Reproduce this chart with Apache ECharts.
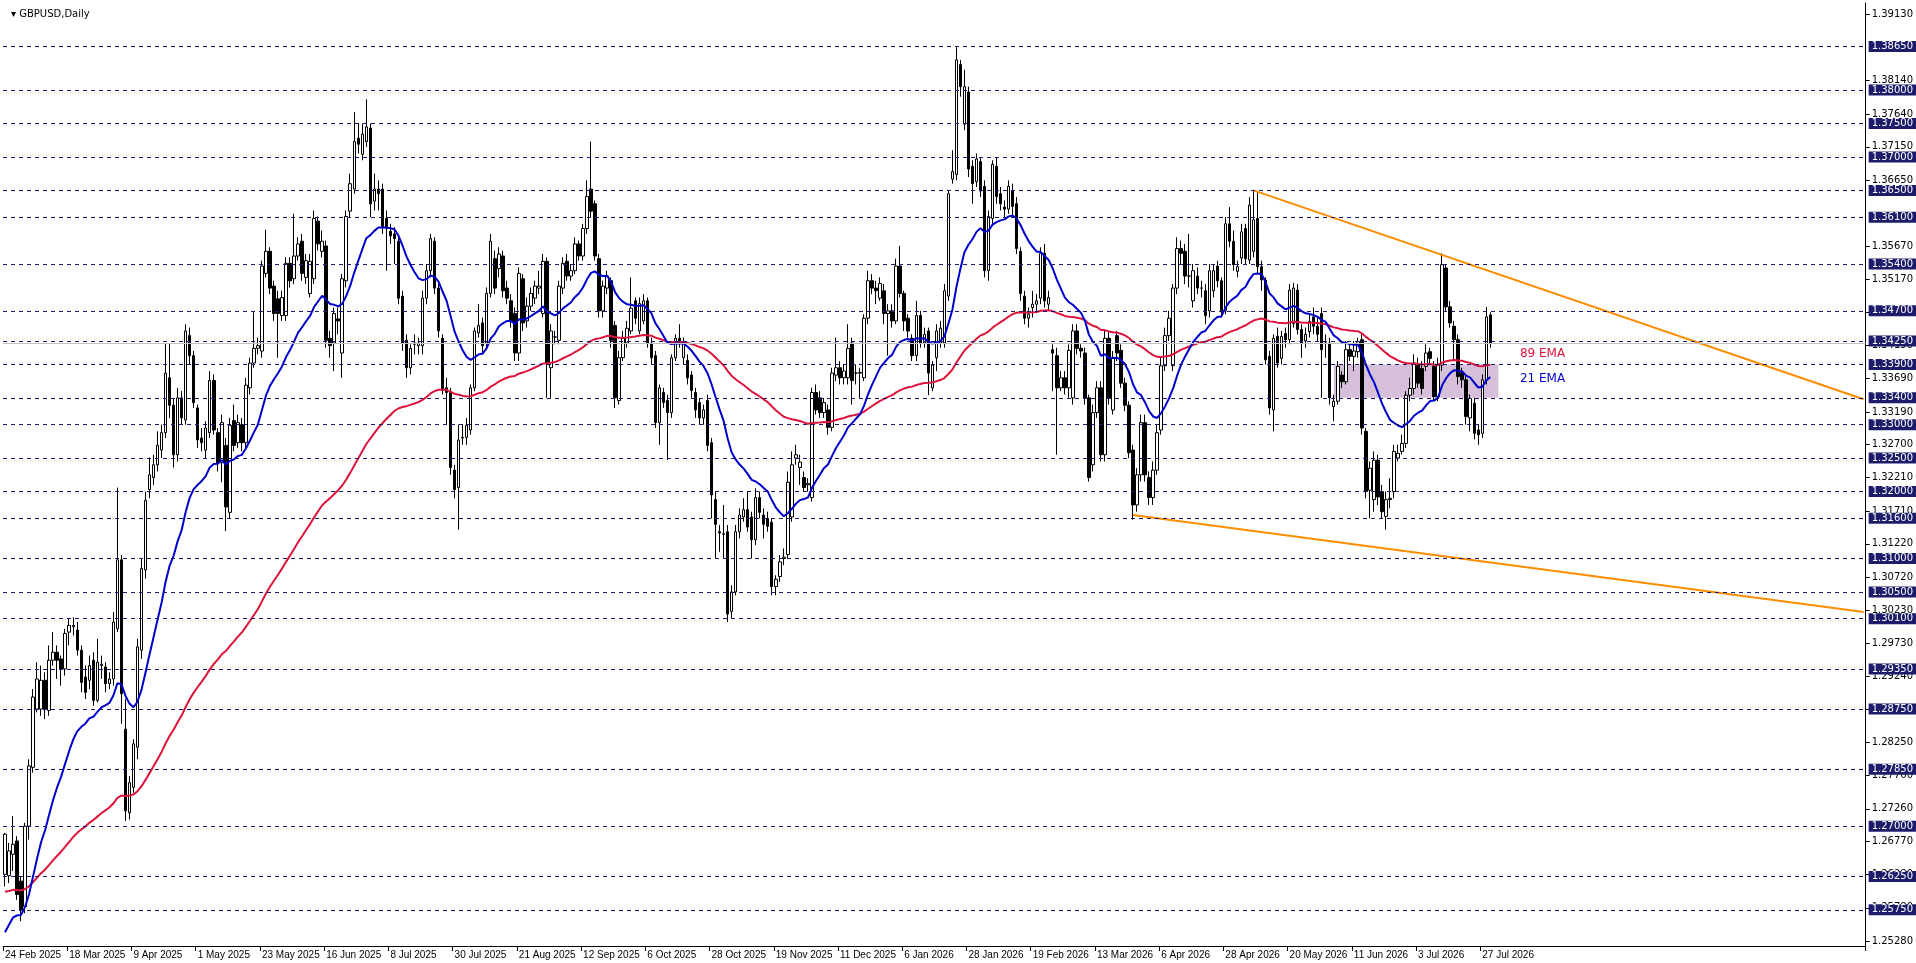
<!DOCTYPE html>
<html>
<head>
<meta charset="utf-8">
<script src="https://cdn.jsdelivr.net/npm/echarts@6/dist/echarts.min.js"></script>
<style>
  html, body { margin: 0; padding: 0; background: #fff; }
  #chart { width: 1916px; height: 963px; }
</style>
</head>
<body>
<div id="chart"></div>
<script>
// prices are written in pips above 1.2500 (e.g. 840 -> 1.3340)
var BASE = 1.25;
var opens = [128,126,158,178,118,80,200,288,375,375,418,373,448,460,450,435,490,498,493,463,423,418,448,388,440,438,413,420,495,598,
345,220,258,318,463,583,703,721,740,762,788,870,829,755,840,807,933,903,825,780,762,788,866,788,743,769,669,806,773,800,
773,855,892,914,910,1026,1059,1007,988,963,963,1041,1018,1052,1074,1020,996,1018,1104,1059,1067,929,922,958,907,1015,1119,1152,1228,1204,
1223,1243,1134,1152,1152,1108,1089,1085,1074,992,926,885,920,918,918,989,1030,1074,1004,929,855,848,732,706,780,781,792,855,937,952,
922,996,1048,1033,1052,1004,985,966,907,1018,955,977,989,1004,966,1044,885,931,926,1004,1044,1022,1030,1070,1052,1093,1152,1130,1048,970,
1004,1015,948,836,900,922,940,985,940,955,985,922,903,803,848,836,818,900,929,900,896,874,848,833,810,836,773,688,640,636,
640,521,550,640,662,673,662,628,691,665,660,654,558,573,600,606,662,750,736,721,710,691,848,840,818,822,796,874,885,870,
870,922,877,877,870,959,1015,1004,989,1000,966,970,955,1037,996,959,929,903,963,922,940,855,900,922,922,992,1167,1174,1338,1249,
1297,1186,1163,1193,1156,1030,1108,1186,1145,1125,1122,1149,1130,1059,992,959,975,980,989,1056,980,912,903,855,870,855,840,940,914,907,
840,740,818,855,755,929,822,933,911,862,829,762,680,725,803,721,691,732,792,888,933,888,1004,1063,1059,1022,985,1022,1004,1000,
970,1000,1037,1015,970,1100,1074,1029,1049,1093,1046,1059,1108,1036,1016,902,822,932,899,936,927,951,1001,942,925,939,961,947,966,922,
922,827,835,874,864,912,902,909,927,790,702,688,747,700,663,688,700,750,760,772,844,854,889,884,887,909,887,842,889,1034,
976,947,927,877,867,810,832,792,787,867,964];
var closes = [188,163,173,98,75,200,290,393,420,418,375,448,460,448,435,488,500,500,463,415,400,440,388,445,442,413,420,505,598,398,
223,265,323,468,585,687,725,740,769,788,877,829,755,840,810,940,903,833,777,773,795,866,792,743,803,677,799,769,803,773,
859,892,914,918,1037,1059,1004,966,966,990,1041,1015,1052,1070,1026,1045,1044,1108,1070,1074,926,918,966,955,1018,1111,1160,1223,1219,1234,
1245,1130,1152,1145,1096,1093,1082,1078,989,922,885,914,922,922,989,1030,1078,1004,940,851,848,736,703,777,781,799,855,940,948,918,
996,1074,1004,1055,1000,989,955,907,1026,952,977,996,1007,1007,1044,892,940,931,1007,1041,1022,1030,1070,1052,1093,1141,1119,1052,970,1007,
1022,926,840,900,929,944,974,959,981,985,922,900,803,855,833,818,900,929,922,922,870,851,822,810,822,769,695,651,638,637,
517,550,640,665,673,647,628,691,669,651,648,558,569,595,602,714,740,755,744,706,712,848,822,818,833,796,877,885,870,880,
914,866,877,878,959,1015,1004,1000,1011,966,970,955,1037,996,955,940,903,963,922,935,877,889,940,944,1000,1145,1178,1345,1305,1305,
1182,1160,1197,1149,1030,1111,1189,1141,1130,1122,1156,1126,1063,996,959,965,980,985,1056,985,990,907,855,870,855,911,940,914,910,840,
721,818,855,755,929,840,900,907,862,829,758,680,725,803,725,691,732,788,888,933,959,1004,1063,1056,1022,1022,1030,1004,1004,963,
1030,1030,1015,970,1100,1074,1039,1036,1088,1048,1128,1106,1036,1016,897,825,929,892,932,927,1001,1004,942,922,935,954,947,935,912,922,
840,835,887,864,912,902,910,924,795,700,735,747,692,670,688,690,760,757,772,844,854,892,862,854,907,899,842,889,1039,976,
952,927,872,867,812,839,787,785,867,961,922];
var lows = [110,115,133,90,58,70,180,280,370,365,360,365,440,420,410,425,470,485,455,400,390,405,380,385,420,400,405,410,490,353,
208,210,250,300,450,570,690,710,730,750,780,810,736,745,800,800,890,825,765,760,750,780,785,730,714,641,660,760,765,760,
765,845,885,905,900,1020,995,955,900,955,955,1005,1010,1045,1015,1010,990,1010,1060,1050,915,900,880,935,870,1005,1110,1145,1205,1195,
1215,1110,1120,1120,1085,1030,1070,1040,980,910,870,875,905,905,905,980,1020,995,930,845,800,725,690,643,770,770,785,850,930,905,
915,990,995,1020,990,980,945,895,895,940,945,970,980,995,960,840,840,920,920,995,1015,1015,1025,1045,1045,1085,1110,1045,960,960,
995,915,825,830,895,915,935,950,935,950,915,890,795,770,825,747,810,895,915,890,860,840,810,800,800,760,660,600,610,600,
505,510,545,630,655,640,600,620,660,630,640,545,545,565,590,600,655,740,710,700,700,685,815,810,810,785,790,865,860,860,
860,830,860,840,865,950,995,980,985,950,903,945,950,990,940,930,895,895,915,915,844,850,880,915,915,985,1160,1165,1290,1240,
1170,1130,1155,1140,1020,1015,1100,1130,1120,1110,1115,1110,1055,985,950,945,960,970,980,975,970,850,755,850,845,840,830,905,900,830,
715,730,810,745,745,830,815,895,855,820,750,658,670,715,715,680,680,725,785,880,925,880,995,1040,1010,1005,975,995,990,950,
960,990,1005,960,965,1065,1030,1020,1040,1040,1040,1050,1025,1000,890,815,790,885,890,915,920,945,935,900,915,930,935,925,840,900,
830,805,830,855,860,895,880,900,785,690,660,670,680,660,643,675,690,745,755,765,835,845,855,845,880,890,835,835,880,970,
945,895,860,855,800,790,778,770,780,860,915];
var highs = [190,175,215,185,125,205,300,405,445,440,430,470,490,470,455,495,510,512,505,470,440,455,460,480,455,445,430,520,706,605,
390,275,330,480,600,700,751,755,790,800,922,922,840,855,850,950,945,910,830,795,805,880,875,795,815,780,810,830,815,810,
870,900,968,930,1045,1091,1065,1015,1000,1000,1050,1050,1115,1080,1085,1055,1055,1120,1111,1090,1075,940,975,975,1025,1120,1175,1267,1250,1250,
1286,1250,1175,1165,1160,1120,1100,1095,1080,1000,935,920,935,930,1000,1040,1085,1080,1010,935,870,855,740,800,800,810,860,945,980,960,
1005,1085,1060,1065,1060,1015,995,975,1035,1025,990,1005,1015,1030,1055,1050,950,940,1015,1050,1055,1040,1080,1075,1100,1165,1223,1135,1055,1015,
1030,1020,955,910,940,955,1020,990,990,995,990,930,910,860,855,845,905,935,950,930,905,880,855,840,830,845,780,700,650,680,
650,560,650,675,690,700,670,705,700,675,670,660,575,605,615,730,760,770,755,730,720,855,860,850,840,830,885,930,895,890,
950,930,890,885,965,1030,1025,1015,1020,1010,980,980,1048,1067,1000,965,935,985,970,945,945,895,950,955,1010,1150,1210,1364,1345,1330,
1305,1195,1205,1200,1165,1120,1195,1200,1155,1135,1165,1160,1140,1065,1000,975,1000,995,1065,1070,1000,920,915,880,880,920,950,950,920,915,
845,830,865,865,940,940,910,940,920,870,835,770,735,815,815,730,745,800,900,945,970,1010,1080,1075,1070,1085,1040,1035,1015,1010,
1040,1040,1045,1020,1110,1125,1090,1045,1100,1100,1140,1150,1148,1045,1020,910,935,945,940,945,1010,1012,1010,950,945,965,975,960,975,935,
930,845,895,880,925,920,925,930,935,795,745,760,755,710,700,720,770,770,785,850,870,905,900,895,920,915,895,900,1056,1040,
985,955,935,885,875,845,840,800,875,976,968];

// 21 / 89 EMA starting values (carried over from history left of the chart)
var ema21Seed = 27, ema89Seed = 100;
// key levels drawn as dashed lines
var levels = [1.3865,1.3800,1.3750,1.3700,1.3650,1.3610,1.3540,1.3470,1.3425,1.3390,1.3340,1.3300,1.3250,1.3200,1.3160,
  1.3100,1.3050,1.3010,1.2935,1.2875,1.2785,1.2700,1.2625,1.2575];
// plain axis ticks
var ticks = [1.3913,1.3814,1.3764,1.3715,1.3665,1.3567,1.3517,1.3468,1.3419,1.3369,1.3319,1.3270,1.3221,1.3171,1.3122,
  1.3072,1.3023,1.2973,1.2924,1.2874,1.2825,1.2776,1.2726,1.2677,1.2628,1.2578,1.2528];
// trendlines [barIndex, price]
var upperTrend = [[311, 1.3650], [463, 1.3338]];
var lowerTrend = [[281, 1.3165], [463, 1.3020]];
// shaded zone [fromBar, toBar, low, high]
var zone = [331, 372, 1.3340, 1.3390];
var totalSlots = 464;
var lastLabelIdx = 368;

var months = ['Jan','Feb','Mar','Apr','May','Jun','Jul','Aug','Sep','Oct','Nov','Dec'];
var dates = [];
var d = new Date(Date.UTC(2025, 1, 24));
while (dates.length < totalSlots) {
  var wd = d.getUTCDay();
  var hol = (d.getUTCMonth() === 11 && d.getUTCDate() === 25) || (d.getUTCMonth() === 0 && d.getUTCDate() === 1);
  if (wd !== 0 && wd !== 6 && !hol) dates.push(d.getUTCDate() + ' ' + months[d.getUTCMonth()] + ' ' + d.getUTCFullYear());
  d = new Date(d.getTime() + 86400000);
}

function px(p) { return +(BASE + p / 10000).toFixed(4); }
var candles = opens.map(function (o, i) { return [px(o), px(closes[i]), px(lows[i]), px(highs[i])]; });

function ema(period, seed) {
  var k = 2 / (period + 1), v = seed, out = [];
  closes.forEach(function (c) { v = v + k * (c - v); out.push(+(BASE + v / 10000).toFixed(5)); });
  return out;
}
var ema21 = ema(21, ema21Seed);
var ema89 = ema(89, ema89Seed);

var levelLines = levels.map(function (v) {
  return { yAxis: v, lineStyle: { color: '#1a1a70', type: [4, 4], width: 1 },
    label: { show: true, position: 'end', distance: 3, formatter: v.toFixed(5), color: '#fff',
      backgroundColor: '#1c1c6a', padding: [1, 3, 0, 3], fontSize: 10, fontFamily: 'DejaVu Sans' } };
});
levelLines.push({ yAxis: px(closes[closes.length - 1]), lineStyle: { color: '#c0c0c0', type: 'solid', width: 1 }, label: { show: false } });

var chart = echarts.init(document.getElementById('chart'));
chart.setOption({
  animation: false,
  backgroundColor: '#fff',
  title: { text: '\u25BE GBPUSD,Daily', left: 6, top: 4, textStyle: { fontSize: 10, fontWeight: 'normal', color: '#000', fontFamily: 'DejaVu Sans' } },
  grid: { left: 3, right: 44, top: 3, bottom: 17 },
  xAxis: {
    type: 'category', data: dates, boundaryGap: true,
    axisLine: { lineStyle: { color: '#000' } },
    axisTick: { show: true, interval: function (i) { return i % 16 === 0 && i <= lastLabelIdx; }, lineStyle: { color: '#000' } },
    axisLabel: { interval: 15, color: '#000', fontSize: 10, fontFamily: 'Liberation Sans Narrow, Liberation Sans', margin: 4, align: 'left',
      formatter: function (v, i) { return i <= lastLabelIdx ? v : ''; } },
    splitLine: { show: false }
  },
  yAxis: {
    type: 'value', position: 'right', min: 1.2521, max: 1.3930,
    axisLine: { show: true, lineStyle: { color: '#000' } },
    axisTick: { show: true, customValues: ticks, length: 4, lineStyle: { color: '#000' } },
    axisLabel: { show: true, customValues: ticks, color: '#000', fontSize: 10, fontFamily: 'DejaVu Sans', margin: 6,
      formatter: function (v) { return v.toFixed(5); } },
    splitLine: { show: false }
  },
  series: [
    {
      type: 'candlestick', data: candles, barWidth: 3,
      itemStyle: { color: '#fff', color0: '#000', borderColor: '#000', borderColor0: '#000', borderWidth: 1 },
      markLine: { symbol: 'none', silent: true, animation: false, precision: 4, data: levelLines },
      markArea: { silent: true, itemStyle: { color: 'rgba(180,140,185,0.55)' },
        data: [[{ coord: [zone[0], zone[3]] }, { coord: [zone[1], zone[2]] }]] },
      markPoint: { symbol: 'circle', symbolSize: 0, silent: true, data: [
        { coord: [383, 1.3405], label: { show: true, formatter: '89 EMA', color: '#dc143c', fontSize: 12, fontFamily: 'DejaVu Sans' } },
        { coord: [383, 1.3368], label: { show: true, formatter: '21 EMA', color: '#0000cc', fontSize: 12, fontFamily: 'DejaVu Sans' } }
      ] }
    },
    { type: 'line', data: ema89, showSymbol: false, lineStyle: { color: '#dc143c', width: 2 }, z: 3 },
    { type: 'line', data: ema21, showSymbol: false, lineStyle: { color: '#0000cc', width: 2 }, z: 3 },
    { type: 'line', data: upperTrend, showSymbol: false, lineStyle: { color: '#ff8c00', width: 2 }, z: 4 },
    { type: 'line', data: lowerTrend, showSymbol: false, lineStyle: { color: '#ff8c00', width: 2 }, z: 4 }
  ]
});
window.addEventListener('resize', function () { chart.resize(); });
</script>
</body>
</html>
